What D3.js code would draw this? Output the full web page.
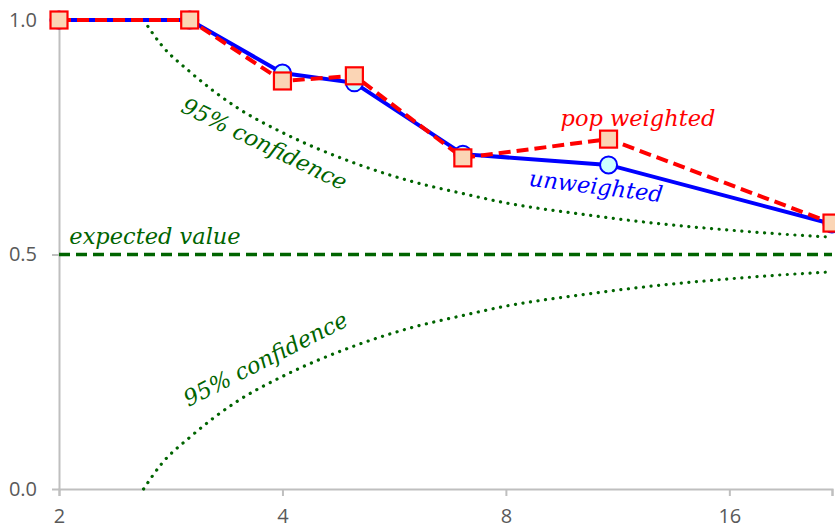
<!DOCTYPE html>
<html>
<head>
<meta charset="utf-8">
<script src="https://cdn.jsdelivr.net/npm/d3@7"></script>
<style>
  body { margin: 0; background: #fff; }
  svg { display: block; }
</style>
</head>
<body>
<div id="chart"></div>
<script>
// sample sizes and observed shares
const sizes = [2, 3, 4, 5, 7, 11, 22]
const unweighted = [1.0, 1.0, 0.887, 0.866, 0.714, 0.691, 0.565]
const popWeighted = [1.0, 1.0, 0.870, 0.881, 0.706, 0.746, 0.567]

// 95% band
const bandN = [2.6, 2.75, 3, 3.5, 4, 5, 6, 7, 8, 10, 12, 14, 16, 19, 22]
const bandUpper = [1.0, 0.946, 0.89, 0.81, 0.76, 0.695, 0.655, 0.63, 0.61, 0.587, 0.571, 0.56, 0.552, 0.543, 0.537]
const bandLower = [0.0, 0.054, 0.11, 0.19, 0.24, 0.305, 0.345, 0.37, 0.39, 0.413, 0.429, 0.44, 0.448, 0.457, 0.463]
const expected = 0.5

const xTicks = [2, 4, 8, 16, 22]
const yTicks = [0, 0.5, 1.0]

const width = 835, height = 530
const margin = {top: 20, right: 3, bottom: 41, left: 59}

const x = d3.scaleLog().base(2).domain([2, 22]).range([margin.left, width - margin.right])
const y = d3.scaleLinear().domain([0, 1]).range([height - margin.bottom, margin.top])

const svg = d3.select('#chart').append('svg').attr('width', width).attr('height', height)

const axisColor = '#bfbfbf'
const green = '#006400'

// axes
const xAxis = svg.append('g')
  .attr('transform', `translate(0,${y(0)})`)
  .call(d3.axisBottom(x).tickValues(xTicks).tickSize(7).tickPadding(13)
    .tickFormat(d => d === 22 ? '' : d3.format('d')(d)))
const yAxis = svg.append('g')
  .attr('transform', `translate(${x(2)},0)`)
  .call(d3.axisLeft(y).tickValues(yTicks).tickSize(7).tickPadding(15)
    .tickFormat(d3.format('.1f')))

for (const ax of [xAxis, yAxis]) {
  ax.attr('font-size', null)
  ax.select('.domain').attr('stroke', axisColor).attr('stroke-width', 2)
  ax.selectAll('.tick line').attr('stroke', axisColor).attr('stroke-width', 2)
  ax.selectAll('.tick text').attr('fill', '#595959')
    .style('font-family', '"Open Sans", sans-serif').style('font-size', '20px')
}
yAxis.select('.domain').attr('d', `M0.5,${y(0)}V${y(1)}`)

// expected value line
svg.append('line')
  .attr('x1', x(2)).attr('x2', x(22))
  .attr('y1', y(expected)).attr('y2', y(expected))
  .attr('stroke', green).attr('stroke-width', 3.5).attr('stroke-dasharray', '11 6')

// confidence curves
const bandLine = vals => d3.line()
  .x((d, i) => x(bandN[i]))
  .y((d, i) => y(vals[i]))
  .curve(d3.curveMonotoneX)(vals)

for (const vals of [bandUpper, bandLower]) {
  svg.append('path')
    .attr('d', bandLine(vals))
    .attr('fill', 'none')
    .attr('stroke', green).attr('stroke-width', 3.2)
    .attr('stroke-linecap', 'round')
    .attr('stroke-dasharray', '0.1 7.5')
}

// series
const seriesLine = vals => d3.line()
  .x((d, i) => x(sizes[i]))
  .y(d => y(d))(vals)

svg.append('path')
  .attr('d', seriesLine(unweighted))
  .attr('fill', 'none').attr('stroke', '#0000ff').attr('stroke-width', 4)

svg.selectAll('circle.unw').data(unweighted).join('circle')
  .attr('class', 'unw')
  .attr('cx', (d, i) => x(sizes[i])).attr('cy', d => y(d)).attr('r', 8.5)
  .attr('fill', '#ccffff').attr('stroke', '#0000ff').attr('stroke-width', 2)

svg.append('path')
  .attr('d', seriesLine(popWeighted))
  .attr('fill', 'none').attr('stroke', '#ff0000').attr('stroke-width', 4)
  .attr('stroke-dasharray', '12 6')

svg.selectAll('rect.pop').data(popWeighted).join('rect')
  .attr('class', 'pop')
  .attr('x', (d, i) => x(sizes[i]) - 8.5).attr('y', d => y(d) - 8.5)
  .attr('width', 17).attr('height', 17)
  .attr('fill', '#fbd5b5').attr('stroke', '#ff0000').attr('stroke-width', 2.2)

// labels
const label = (txt, cx, cy, angle, color) => svg.append('text')
  .attr('transform', `translate(${cx},${cy}) rotate(${angle})`)
  .attr('text-anchor', 'middle')
  .attr('fill', color)
  .style('font-family', '"DejaVu Serif", serif')
  .style('font-style', 'italic')
  .style('font-size', '22.5px')
  .text(txt)

label('expected value', 155, 244, 0, green)
label('95% confidence', 261, 151, 26, green)
label('95% confidence', 269, 366, -27, green)
label('pop weighted', 638, 126, 0, '#ff0000')
label('unweighted', 595, 194, 7, '#0000ff')
</script>
</body>
</html>
